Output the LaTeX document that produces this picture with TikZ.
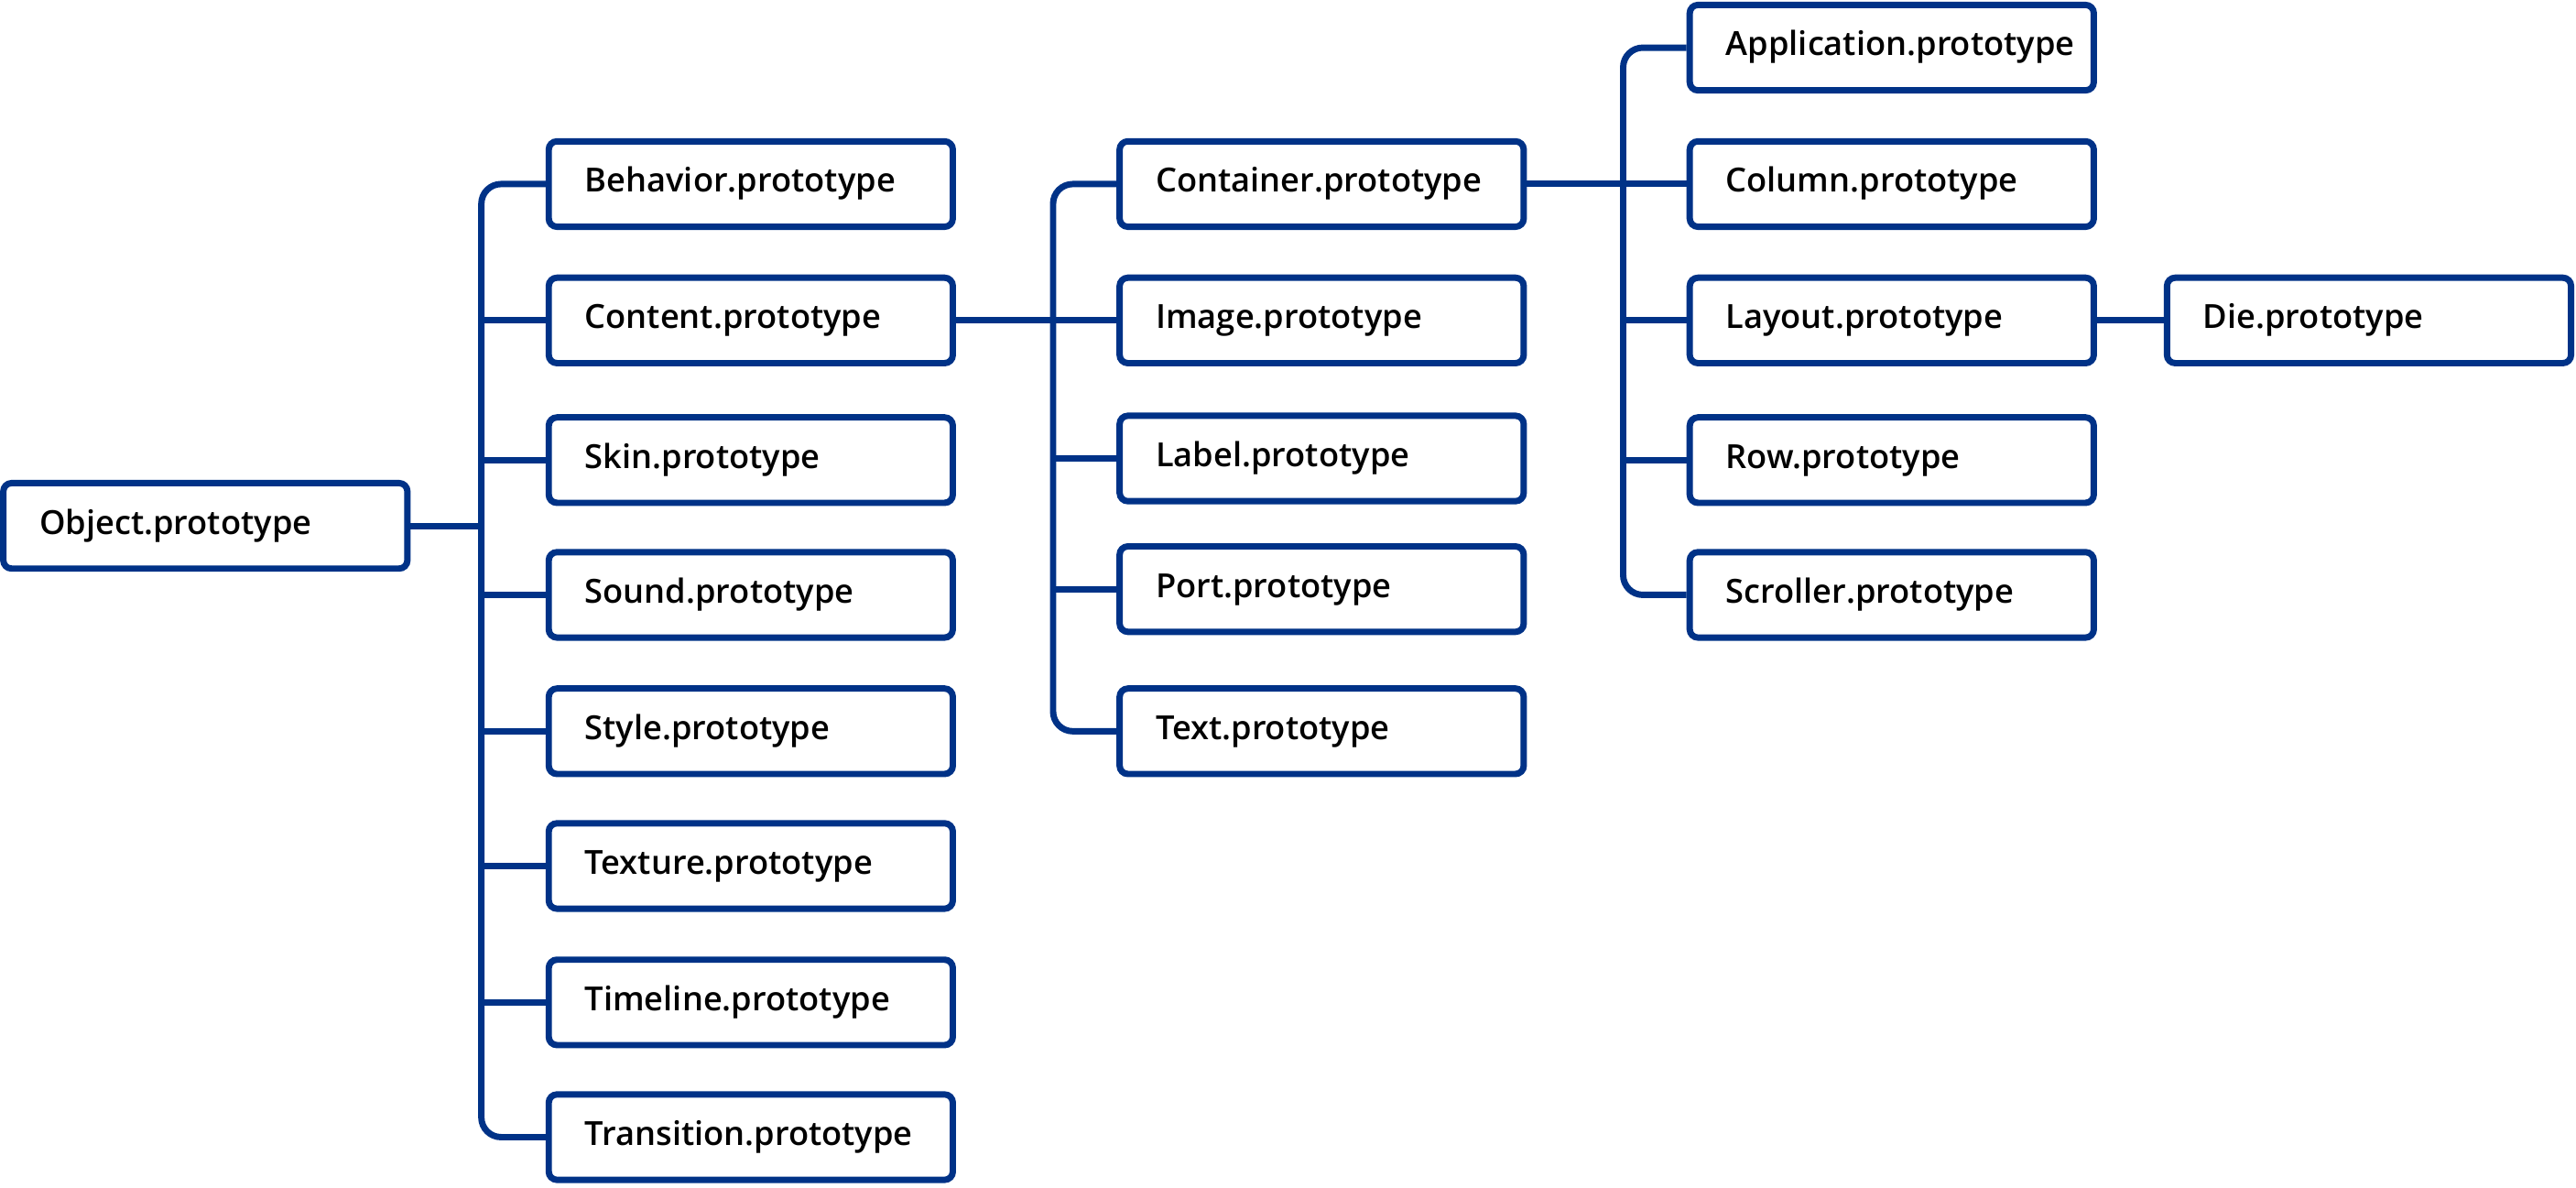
\documentclass[tikz,border=0pt]{standalone}
\usepackage{fontspec}
\setmainfont{Open Sans}[UprightFont={* Semibold}]
\usetikzlibrary{calc}
\definecolor{protoblue}{RGB}{0,50,135}
\tikzset{
	proto/.style={draw=protoblue, line width=2.2pt, fill=white, rounded corners=0.1cm,
		minimum width=4.92cm, minimum height=1.04cm, text width=4.04cm, inner xsep=0.44cm,
		align=left, font=\fontsize{11.5}{13}\selectfont, text height=1.4ex, text depth=0.35ex},
	link/.style={draw=protoblue, line width=2.2pt},
	elbow/.style={link, rounded corners=0.24cm}
}

\begin{document}
\begin{tikzpicture}[x=0.02cm, y=-0.02cm]
			%%%%% START %%%%%
			
			\useasboundingbox (0, 0) rectangle (1568, 722.5);
			
			\node[proto] (object) at (125, 320) {Object.prototype};
			
			\node[proto] (behavior) at (457, 112) {Behavior.prototype};
			\node[proto] (content) at (457, 195) {Content.prototype};
			\node[proto] (skin) at (457, 280) {Skin.prototype};
			\node[proto] (sound) at (457, 362) {Sound.prototype};
			\node[proto] (style) at (457, 445) {Style.prototype};
			\node[proto] (texture) at (457, 527) {Texture.prototype};
			\node[proto] (timeline) at (457, 610) {Timeline.prototype};
			\node[proto] (transition) at (457, 692) {Transition.prototype};
			
			\node[proto] (container) at (804.5, 112) {Container.prototype};
			\node[proto] (image) at (804.5, 195) {Image.prototype};
			\node[proto] (label) at (804.5, 279) {Label.prototype};
			\node[proto] (port) at (804.5, 358.5) {Port.prototype};
			\node[proto] (text) at (804.5, 445) {Text.prototype};
			
			\node[proto] (application) at (1151.5, 29) {Application.prototype};
			\node[proto] (column) at (1151.5, 112) {Column.prototype};
			\node[proto] (layout) at (1151.5, 195) {Layout.prototype};
			\node[proto] (row) at (1151.5, 280) {Row.prototype};
			\node[proto] (scroller) at (1151.5, 362) {Scroller.prototype};
			
			\node[proto] (die) at (1442, 195) {Die.prototype};
			
			\coordinate (trunkA) at (293, 320);
			\coordinate (trunkB) at (641, 195);
			\coordinate (trunkC) at (988, 112);
			
			% Object.prototype
			\draw[link] (object.east) -- (trunkA);
			\draw[elbow] (behavior.west) -| (trunkA) |- (transition.west);
			\foreach \n in {content, skin, sound, style, texture, timeline}
				\draw[link] (\n.west) -- (trunkA |- \n.west);
			
			% Content.prototype
			\draw[link] (content.east) -- (image.west);
			\draw[elbow] (container.west) -| (trunkB) |- (text.west);
			\foreach \n in {label, port}
				\draw[link] (\n.west) -- (trunkB |- \n.west);
			
			% Container.prototype
			\draw[link] (container.east) -- (column.west);
			\draw[elbow] (application.west) -| (trunkC) |- (scroller.west);
			\foreach \n in {layout, row}
				\draw[link] (\n.west) -- (trunkC |- \n.west);
			
			% Layout.prototype
			\draw[link] (layout.east) -- (die.west);
			
			%%%%% END %%%%%
		\end{tikzpicture}
\end{document}
